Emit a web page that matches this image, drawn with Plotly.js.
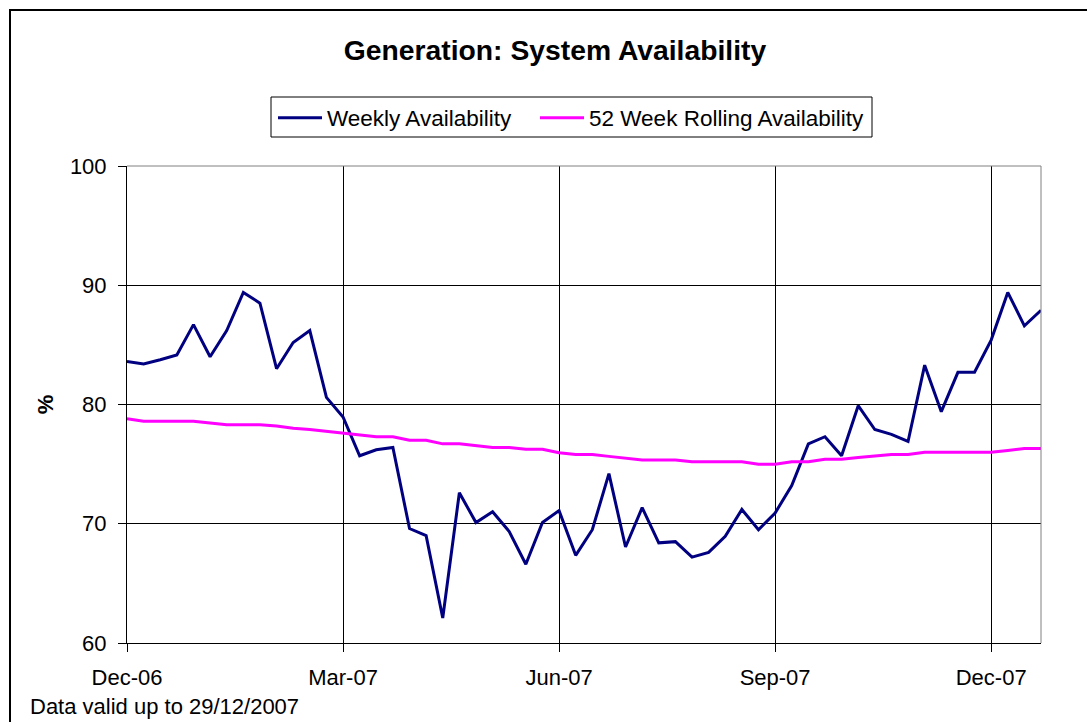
<!DOCTYPE html>
<html>
<head>
<meta charset="utf-8">
<script src="https://cdn.plot.ly/plotly-3.0.1.min.js"></script>
<style>
  html, body { margin: 0; padding: 0; background: #fff; overflow: hidden; }
  #chart { width: 1087px; height: 722px; position: relative; }
  #frame { position: absolute; left: 9px; top: 9px; width: 1200px; height: 800px;
           border-left: 2px solid #000; border-top: 2px solid #000; pointer-events: none; }
</style>
</head>
<body>
<div id="chart"></div>
<div id="frame"></div>
<script>
// Week index (0 = first week of Dec-06)
const weekIndex = Array.from({length: 56}, (_, i) => i);

const weeklyAvailability = [
  83.6, 83.4, 83.75, 84.15, 86.7, 84.0, 86.2, 89.4, 88.5, 83.0,
  85.2, 86.2, 80.6, 78.95, 75.7, 76.2, 76.4, 69.6, 69.0, 62.1,
  72.6, 70.1, 71.0, 69.35, 66.6, 70.1, 71.1, 67.35, 69.5, 74.2,
  68.05, 71.35, 68.4, 68.5, 67.2, 67.6, 68.95, 71.2, 69.5, 70.9,
  73.2, 76.7, 77.3, 75.7, 79.9, 77.9, 77.5, 76.9, 83.3, 79.4,
  82.7, 82.7, 85.4, 89.4, 86.6, 87.9
];

const rollingAvailability = [
  78.8, 78.6, 78.6, 78.6, 78.6, 78.45, 78.3, 78.3, 78.3, 78.2,
  78.0, 77.9, 77.75, 77.55, 77.4, 77.3, 77.3, 77.0, 77.0, 76.7,
  76.7, 76.55, 76.4, 76.4, 76.25, 76.25, 75.95, 75.8, 75.8, 75.65,
  75.5, 75.35, 75.35, 75.35, 75.2, 75.2, 75.2, 75.2, 75.0, 75.0,
  75.2, 75.2, 75.4, 75.4, 75.55, 75.7, 75.8, 75.8, 76.0, 76.0,
  76.0, 76.0, 76.0, 76.15, 76.3, 76.3
];

const tickPositions = [0, 13, 26, 39, 52];
const tickLabels = ['Dec-06', 'Mar-07', 'Jun-07', 'Sep-07', 'Dec-07'];

const FONT = 'Liberation Sans, Arial, sans-serif';
const W = 1087, H = 722;
const L = 127, R = 46, T = 166, B = 79;
const pw = W - L - R, ph = H - T - B;
const px = x => (x - L) / pw;
const py = y => (H - B - y) / ph;

const traces = [
  {
    x: weekIndex, y: weeklyAvailability, type: 'scatter', mode: 'lines',
    name: 'Weekly Availability', legend: 'legend',
    line: {color: '#000080', width: 3}
  },
  {
    x: weekIndex, y: rollingAvailability, type: 'scatter', mode: 'lines',
    name: '52 Week Rolling Availability', legend: 'legend2',
    line: {color: '#FF00FF', width: 3}
  }
];

const legendBase = {
  orientation: 'h',
  xanchor: 'left', yanchor: 'middle',
  y: py(118),
  borderwidth: 0,
  bgcolor: 'rgba(0,0,0,0)',
  font: {family: FONT, size: 22.5, color: '#000'},
  itemwidth: 44
};

const layout = {
  width: W, height: H,
  margin: {l: L, r: R, t: T, b: B, pad: 0},
  paper_bgcolor: '#fff', plot_bgcolor: '#fff',
  font: {family: FONT, size: 22, color: '#000'},
  showlegend: true,
  title: {
    text: '<b>Generation: System Availability</b>',
    font: {family: FONT, size: 28.3, color: '#000'},
    xref: 'container', yref: 'container',
    x: 555 / W, xanchor: 'center',
    y: 1 - 50 / H, yanchor: 'middle'
  },
  legend: Object.assign({}, legendBase, {x: px(273)}),
  legend2: Object.assign({}, legendBase, {x: px(535)}),
  xaxis: {
    range: [0, 55],
    tickmode: 'array', tickvals: tickPositions, ticktext: tickLabels,
    ticks: 'outside', ticklen: 8, tickcolor: '#000', tickwidth: 1,
    ticklabelstandoff: 7,
    showline: true, linecolor: '#000', linewidth: 1,
    showgrid: true, gridcolor: '#000', gridwidth: 1,
    zeroline: false,
    tickfont: {family: FONT, size: 22, color: '#000'}
  },
  yaxis: {
    range: [60, 100], dtick: 10, tick0: 60,
    ticks: 'outside', ticklen: 8, tickcolor: '#000', tickwidth: 1,
    ticklabelstandoff: 7,
    showline: true, linecolor: '#000', linewidth: 1,
    showgrid: true, gridcolor: '#000', gridwidth: 1,
    zeroline: false,
    tickfont: {family: FONT, size: 22, color: '#000'},
    title: {text: '<b>%</b>', font: {family: FONT, size: 22, color: '#000'}, standoff: 10}
  },
  shapes: [
    {type: 'line', xref: 'paper', yref: 'paper', x0: 0, x1: 1, y0: 1, y1: 1,
     line: {color: '#808080', width: 1}, layer: 'above'},
    {type: 'line', xref: 'paper', yref: 'paper', x0: 1, x1: 1, y0: 0, y1: 1,
     line: {color: '#808080', width: 1}, layer: 'above'},
    {type: 'rect', xref: 'paper', yref: 'paper',
     x0: px(271), x1: px(872), y0: py(137), y1: py(97),
     line: {color: '#000', width: 1}, fillcolor: 'rgba(0,0,0,0)', layer: 'above'}
  ],
  annotations: [
    {text: 'Data valid up to 29/12/2007', xref: 'paper', yref: 'paper',
     x: px(28), xanchor: 'left', y: py(706), yanchor: 'middle',
     showarrow: false, font: {family: FONT, size: 22, color: '#000'}}
  ]
};

Plotly.newPlot('chart', traces, layout, {displayModeBar: false, staticPlot: true});
</script>
</body>
</html>
